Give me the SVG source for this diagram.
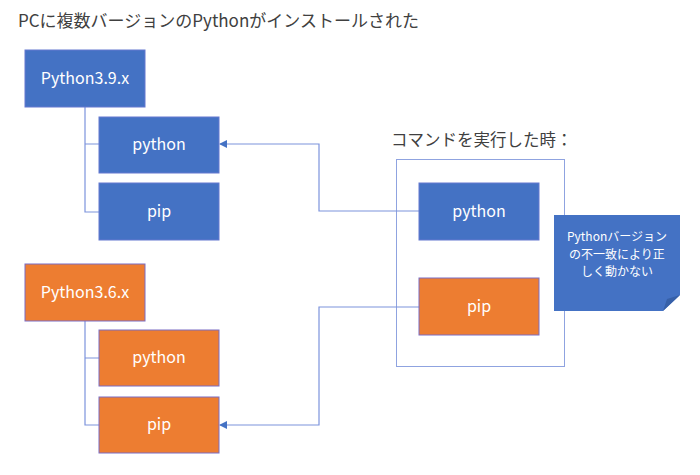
<svg xmlns="http://www.w3.org/2000/svg" width="700" height="475" viewBox="0 0 700 475">
<style>
text{font-family:"Noto Sans CJK JP","Noto Sans",sans-serif}
.t{fill:#404040;font-size:17px}
.lbl{fill:#ffffff;font-size:16px;text-anchor:middle}
.note{fill:#ffffff;font-size:12px;text-anchor:middle}
.blue{fill:#4472C4;stroke:#6478D0;stroke-width:1}
.orange{fill:#ED7D31;stroke:#7A6CC4;stroke-width:1}
.ln{fill:none;stroke:#7C93DC;stroke-width:1.2}
</style>
<defs>
<marker id="ah" markerWidth="8" markerHeight="8" refX="7" refY="4" orient="auto" markerUnits="userSpaceOnUse">
<path d="M0,0 L8,4 L0,8 Z" fill="#4472C4"/>
</marker>
</defs>
<rect width="700" height="475" fill="#ffffff"/>
<text class="t" x="18" y="27">PCに複数バージョンのPythonがインストールされた</text>
<text class="t" x="391" y="146" style="font-size:16.5px">コマンドを実行した時：</text>
<rect id="frame" x="396.5" y="159.5" width="168" height="207" fill="none" stroke="#8FA3E0" stroke-width="1"/>
<g id="connectors">
<path class="ln" d="M85,107 V212 H99 M85,144 H99"/>
<path class="ln" d="M85,321 V425 H99 M85,358 H99"/>
<path class="ln" d="M419,211 H319 V144 H220" marker-end="url(#ah)"/>
<path class="ln" d="M419,307 H319 V425 H220" marker-end="url(#ah)"/>
</g>
<g id="py39"><rect class="blue" x="25" y="50" width="120" height="57"/><text class="lbl" x="85" y="84">Python3.9.x</text></g>
<g id="py39-python"><rect class="blue" x="99" y="117" width="120" height="56"/><text class="lbl" x="159" y="150">python</text></g>
<g id="py39-pip"><rect class="blue" x="99" y="183" width="120" height="57"/><text class="lbl" x="159" y="217">pip</text></g>
<g id="py36"><rect class="orange" x="25" y="264" width="120" height="57"/><text class="lbl" x="85" y="298">Python3.6.x</text></g>
<g id="py36-python"><rect class="orange" x="99" y="330" width="120" height="56"/><text class="lbl" x="159" y="363">python</text></g>
<g id="py36-pip"><rect class="orange" x="99" y="397" width="120" height="56"/><text class="lbl" x="159" y="430">pip</text></g>
<g id="cmd-python"><rect class="blue" x="419" y="183" width="120" height="57"/><text class="lbl" x="479" y="217">python</text></g>
<g id="cmd-pip"><rect class="orange" x="419" y="278" width="120" height="57"/><text class="lbl" x="479" y="312">pip</text></g>
<g id="note">
<path d="M554,215 H680 V295 L663,311 H554 Z" fill="#4472C4"/>
<path d="M663,311 L667,299 L680,295 Z" fill="#3760A8"/>
<text class="note" x="617" y="241">Pythonバージョン</text>
<text class="note" x="617" y="258.5">の不一致により正</text>
<text class="note" x="617" y="276">しく動かない</text>
</g>
</svg>
